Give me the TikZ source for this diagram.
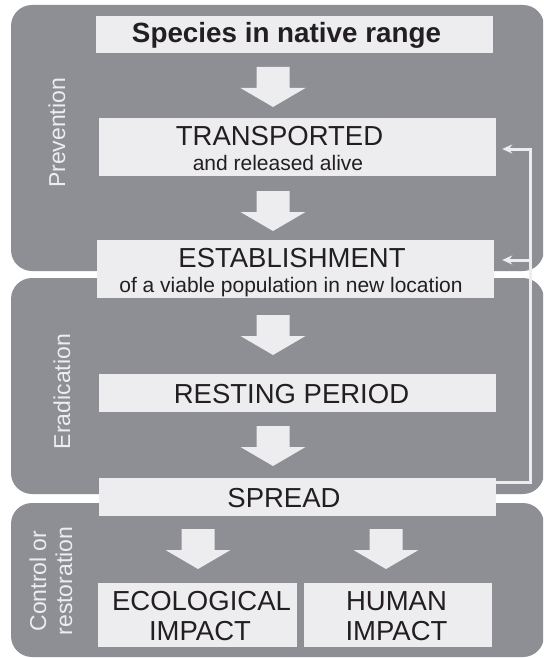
\documentclass[tikz,border=0pt]{standalone}
\usepackage{fontspec}
\setmainfont{Liberation Sans}
\usetikzlibrary{arrows.meta}
\definecolor{panelgray}{RGB}{142,143,148}
\definecolor{boxfill}{RGB}{237,237,239}
\definecolor{inktext}{RGB}{35,31,32}
\tikzset{
  stagepanel/.style={fill=panelgray, rounded corners=21pt},
  stagebox/.style={fill=boxfill, inner sep=0pt, minimum width=397pt},
  boxtitle/.style={anchor=base, text=inktext, inner sep=0pt, font=\fontsize{27.5}{30}\selectfont},
  boxsub/.style={anchor=base, text=inktext, inner sep=0pt, font=\fontsize{21}{24}\selectfont},
  sidelabel/.style={rotate=90, text=boxfill, inner sep=0pt, align=center, font=\fontsize{23}{26}\selectfont},
  feedback/.style={draw=boxfill, line width=3pt},
  blockdown/.pic={\fill[boxfill] (-16.5,0) -- (16.5,0) -- (16.5,21) -- (32.5,21) -- (0,40) -- (-32.5,21) -- (-16.5,21) -- cycle;}
}
\begin{document}
\begin{tikzpicture}[x=1pt, y=-1pt]
\useasboundingbox (0,0) rectangle (543,658);
\clip (0,0) rectangle (543,658);
\fill [white] (0,0) rectangle (543,658);

% management panels
\fill [stagepanel] (11,5) rectangle (544,271);
\fill [stagepanel] (11,278) rectangle (544,494);
\fill [stagepanel] (11,503) rectangle (544,657);

\node (prev) at (57,133) [sidelabel] {Prevention};
\node (erad) at (62,391.5) [sidelabel] {Eradication};
\node (ctrl) at (51,581) [sidelabel] {Control or\\restoration};

% stages
\node (spec) at (294.5,34.5) [stagebox, minimum height=37pt] {};
\node (trans) at (297.5,147) [stagebox, minimum height=58pt] {};
\node (estab) at (295.5,269) [stagebox, minimum height=58pt] {};
\node (rest) at (297.5,393) [stagebox, minimum height=38pt] {};
\node (spread) at (297.5,497) [stagebox, minimum height=38pt] {};
\node (eco) at (197.5,615) [stagebox, minimum width=199pt, minimum height=64pt] {};
\node (human) at (398,615) [stagebox, minimum width=188pt, minimum height=64pt] {};

\node (specT) at (286.5,43) [boxtitle, font=\bfseries\fontsize{27.8}{30}\selectfont] {Species in native range};
\node (transT) at (279.5,145) [boxtitle] {TRANSPORTED};
\node (transS) at (278,170) [boxsub] {and released alive};
\node (estabT) at (292,267) [boxtitle] {ESTABLISHMENT};
\node (estabS) at (291,292) [boxsub] {of a viable population in new location};
\node (restT) at (291.5,403) [boxtitle] {RESTING PERIOD};
\node (spreadT) at (284,507) [boxtitle] {SPREAD};
\node (ecoT) at (201.5,610) [boxtitle] {ECOLOGICAL};
\node (ecoI) at (200,640) [boxtitle] {IMPACT};
\node (humanT) at (396.5,610) [boxtitle] {HUMAN};
\node (humanI) at (396.5,640) [boxtitle] {IMPACT};

% block arrows
\pic (a1) at (273,67) {blockdown};
\pic (a2) at (273,191) {blockdown};
\pic (a3) at (273,315) {blockdown};
\pic (a4) at (273,426) {blockdown};
\pic (a5) at (198,529) {blockdown};
\pic (a6) at (386,529) {blockdown};

% feedback from spread
\coordinate (fbS) at (530,482);
\coordinate (fbT) at (530,149);
\coordinate (fbE) at (530,260);
\draw [feedback, -{Stealth[length=10pt,width=9pt]}] (spread.east |- fbS) -- (fbS) -- (fbT) -- ([xshift=6pt]trans.east |- fbT);
\draw [feedback, -{Stealth[length=10pt,width=9pt]}] (fbE) -- ([xshift=8pt]estab.east |- fbE);
\end{tikzpicture}
\end{document}
